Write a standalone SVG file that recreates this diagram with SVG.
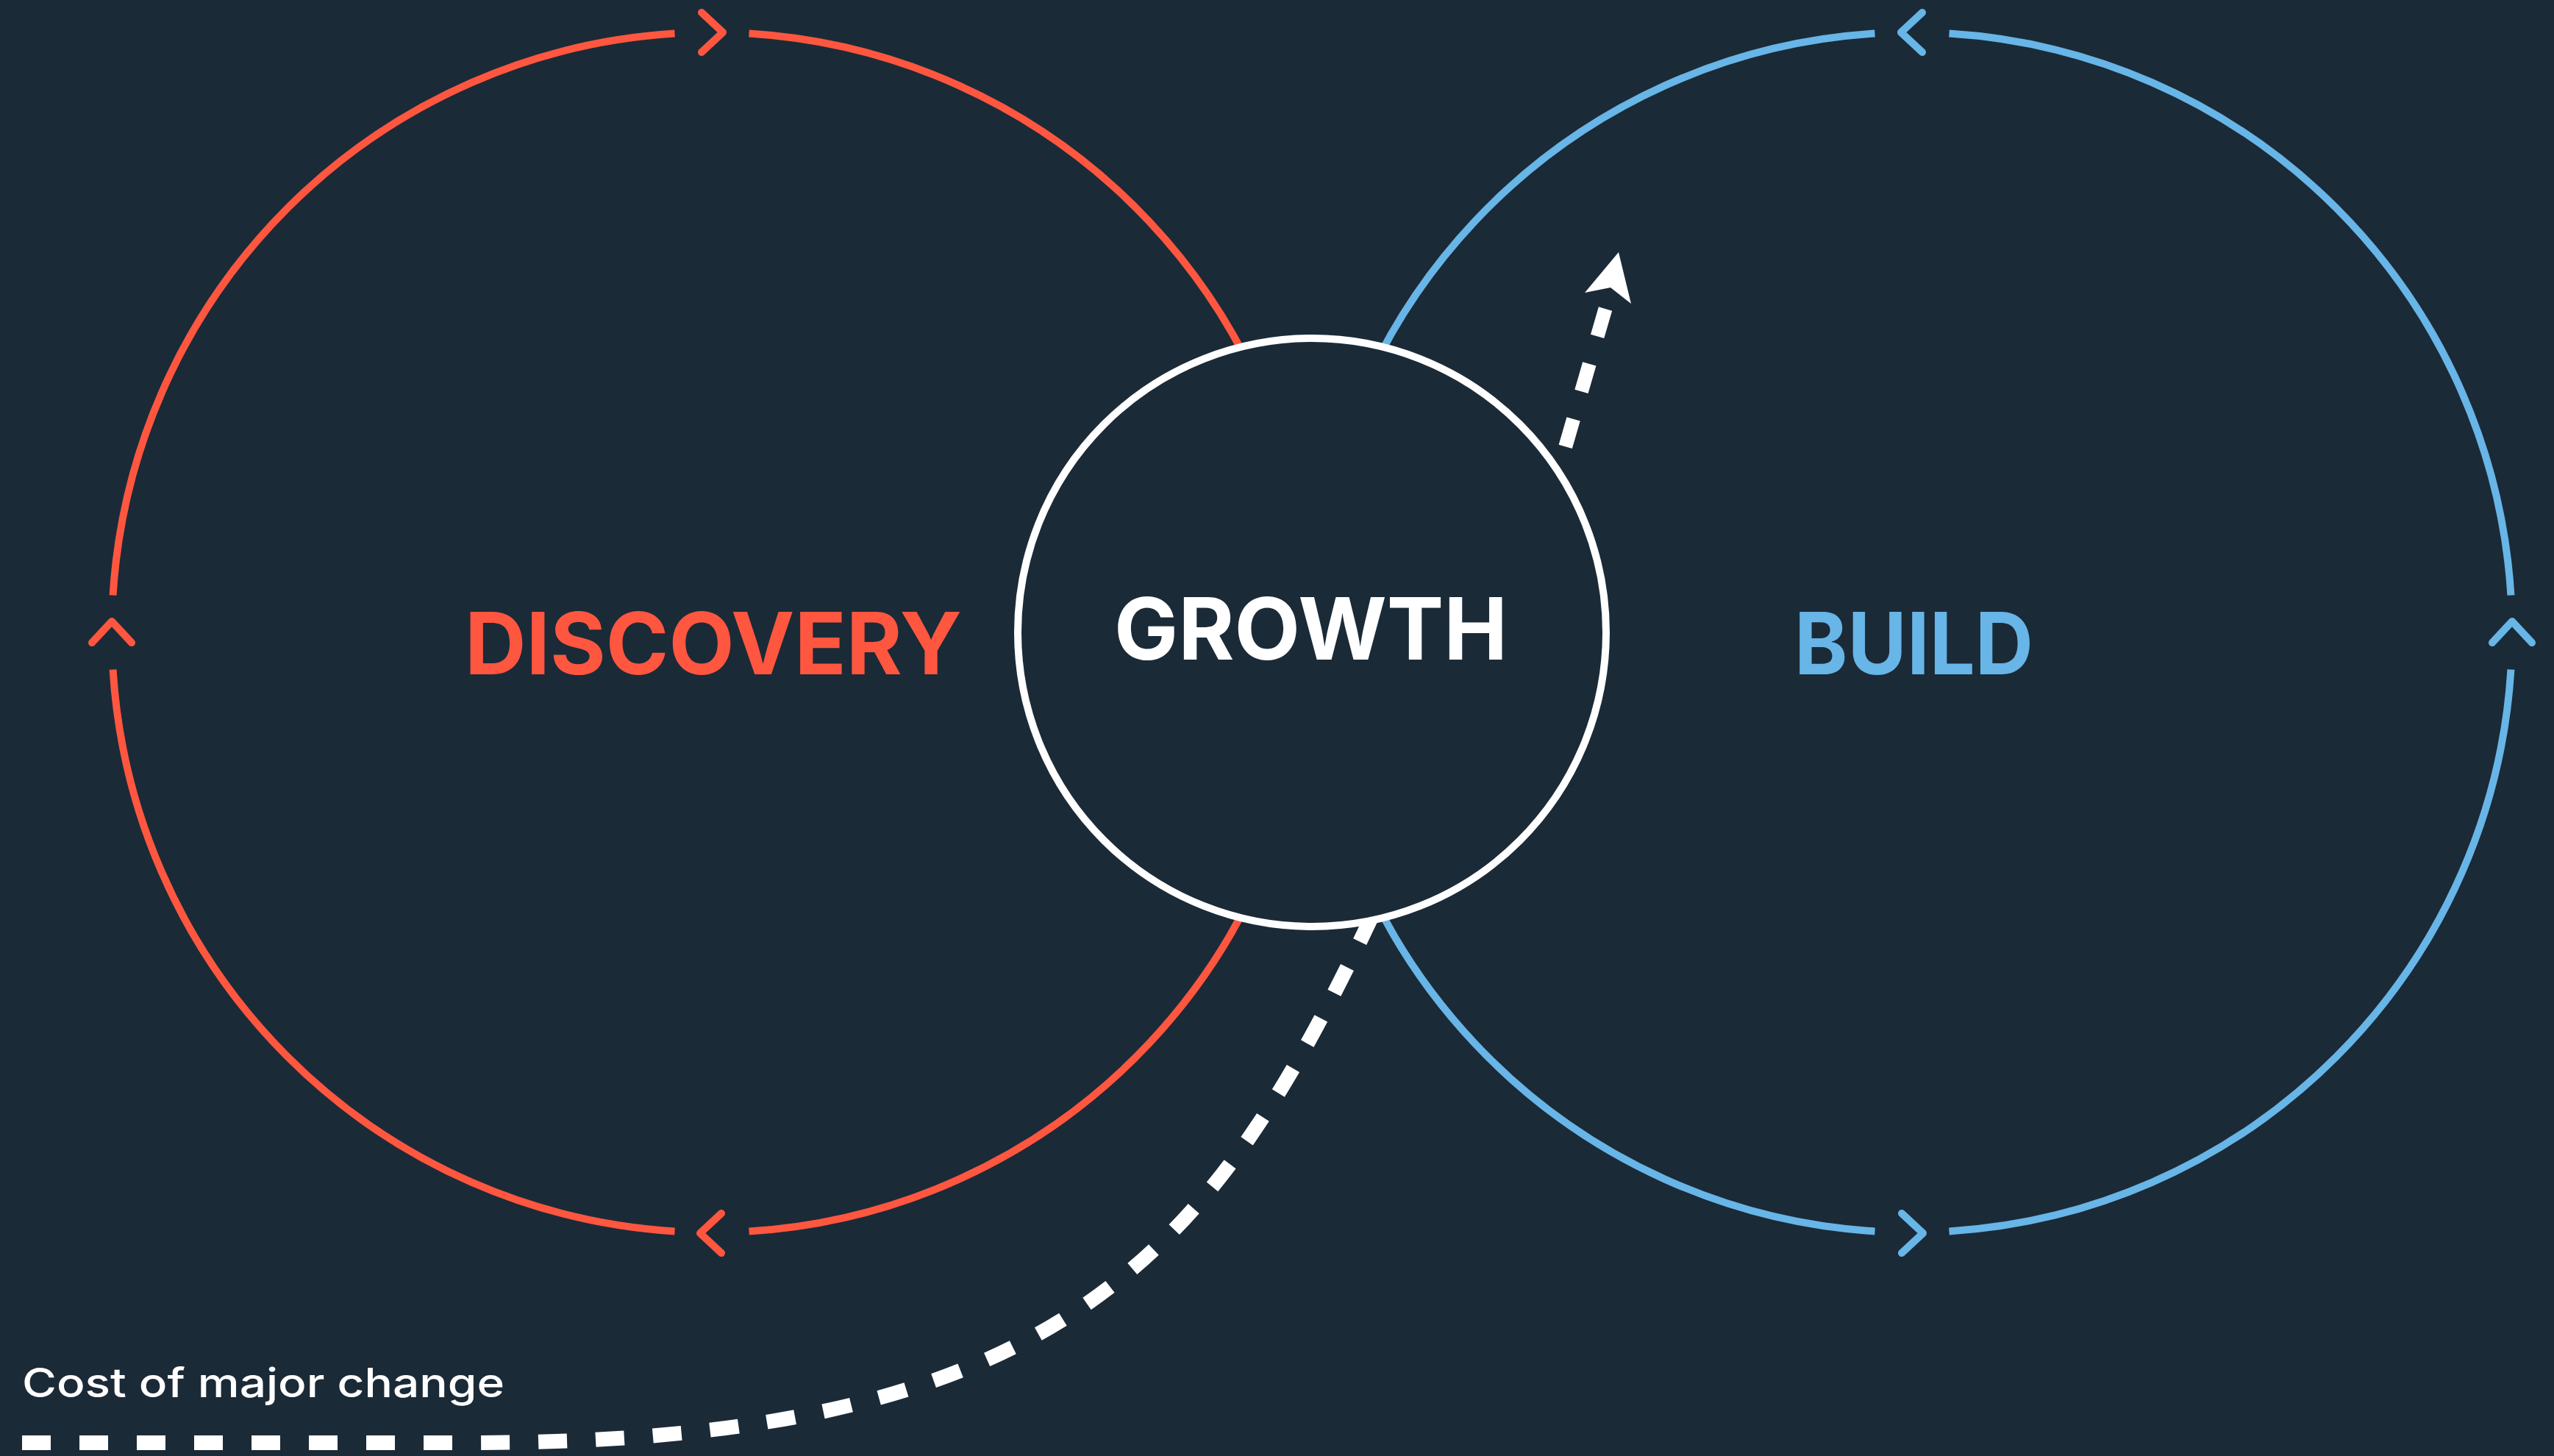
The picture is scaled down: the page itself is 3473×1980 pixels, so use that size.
<svg xmlns="http://www.w3.org/2000/svg" width="3473" height="1980" viewBox="0 0 3473 1980">
  <style>
    .arc-red { fill: none; stroke: #FF5640; stroke-width: 10; }
    .arc-blue { fill: none; stroke: #68B5E7; stroke-width: 10; }
    .chev-red { fill: none; stroke: #FF5640; stroke-width: 10; stroke-linecap: round; stroke-linejoin: round; }
    .chev-blue { fill: none; stroke: #68B5E7; stroke-width: 10; stroke-linecap: round; stroke-linejoin: round; }
    .title { font-family: Inter, "Liberation Sans", sans-serif; font-weight: 700; font-size: 117px; }
    .dash { fill: none; stroke: #FFFFFF; stroke-dasharray: 39 39; stroke-linecap: butt; }
    .note { font-family: Inter, "Liberation Sans", sans-serif; font-weight: 500; font-size: 55px; fill: #FFFFFF; }
  </style>
  <defs>
    <path id="chev" d="M -14 -27 L 15 0 L -14 27"/>
  </defs>
  <rect x="0" y="0" width="3473" height="1980" fill="#1B2A37"/>

  <g id="discovery">
    <path class="arc-red" d="M 1018.5 45.56 A 816 816 0 0 1 1018.5 1674.44"/>
    <path class="arc-red" d="M 917.5 1674.44 A 816 816 0 0 1 153.56 910.5"/>
    <path class="arc-red" d="M 153.56 809.5 A 816 816 0 0 1 917.5 45.56"/>
    <use href="#chev" class="chev-red" transform="translate(968,44)"/>
    <use href="#chev" class="chev-red" transform="translate(152,860) rotate(-90)"/>
    <use href="#chev" class="chev-red" transform="translate(967,1677) rotate(180)"/>
    <text class="title" x="632" y="917" fill="#FF5640" textLength="676" lengthAdjust="spacingAndGlyphs">DISCOVERY</text>
  </g>

  <g id="build">
    <path class="arc-blue" d="M 2549.5 45.56 A 816 816 0 0 0 2549.5 1674.44"/>
    <path class="arc-blue" d="M 2650.5 1674.44 A 816 816 0 0 0 3414.44 910.5"/>
    <path class="arc-blue" d="M 3414.44 809.5 A 816 816 0 0 0 2650.5 45.56"/>
    <use href="#chev" class="chev-blue" transform="translate(2600,44) rotate(180)"/>
    <use href="#chev" class="chev-blue" transform="translate(3416,860) rotate(-90)"/>
    <use href="#chev" class="chev-blue" transform="translate(2600,1677)"/>
    <text class="title" x="2440" y="917" fill="#68B5E7" textLength="325" lengthAdjust="spacingAndGlyphs">BUILD</text>
  </g>

  <g id="connectors">
    <path class="dash" stroke-width="20" d="M 30 1962 L 640 1962 C 1440 1962 1645 1708 1860 1258 L 1885 1205"/>
    <path class="dash" stroke-width="19" d="M 2183 420 L 2119 641"/>
    <path d="M 2201 343 L 2218 413 L 2190 391 L 2155 398 Z" fill="#FFFFFF"/>
    <text class="note" x="30" y="1900" textLength="656" lengthAdjust="spacingAndGlyphs">Cost of major change</text>
  </g>

  <g id="growth">
    <circle cx="1784" cy="860" r="400" fill="#1B2A37" stroke="#FFFFFF" stroke-width="10"/>
    <text class="title" x="1515" y="897" fill="#FFFFFF" textLength="535" lengthAdjust="spacingAndGlyphs">GROWTH</text>
  </g>
</svg>
